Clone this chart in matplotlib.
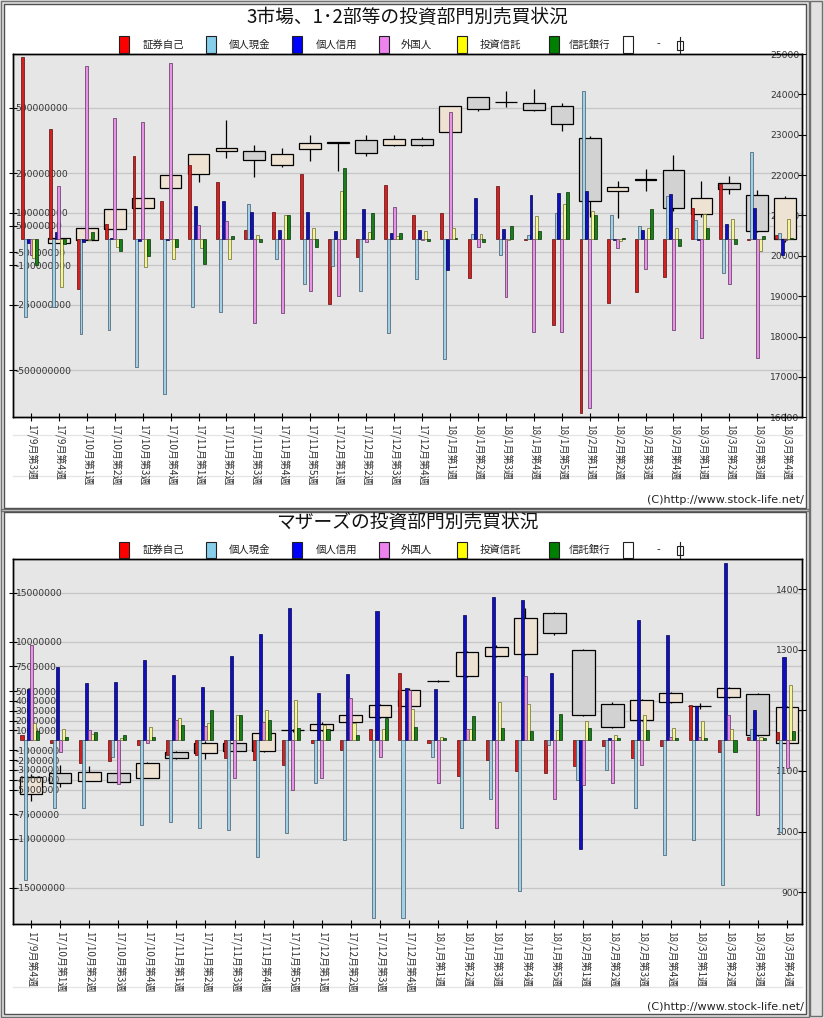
import matplotlib
matplotlib.use('Agg')
import matplotlib.pyplot as plt
import matplotlib.transforms as mtrans
from matplotlib.patches import Rectangle
from matplotlib.lines import Line2D
import numpy as np

plt.rcParams['font.family'] = ['Noto Sans CJK JP', 'DejaVu Sans']
plt.rcParams['axes.unicode_minus'] = False

# ---------------- data: top chart (3市場、1・2部等), values in million yen ----------------
cats_top = ['17/9月第3週', '17/9月第4週', '17/10月第1週', '17/10月第2週', '17/10月第3週',
            '17/10月第4週', '17/11月第1週', '17/11月第2週', '17/11月第3週', '17/11月第4週',
            '17/11月第5週', '17/12月第1週', '17/12月第2週', '17/12月第3週', '17/12月第4週',
            '18/1月第1週', '18/1月第2週', '18/1月第3週', '18/1月第4週', '18/1月第5週',
            '18/2月第1週', '18/2月第2週', '18/2月第3週', '18/2月第4週', '18/3月第1週',
            '18/3月第2週', '18/3月第3週', '18/3月第4週']
top_jiko = [694, 419, -192, 57, 316, 146, 282, 217, 34, 103, 249, -249, -69, 206, 91,
            99, -149, 202, -3, -328, -663, -244, -202, -145, 118, 210, -3, 14]
top_genkin = [-297, -259, -363, -348, -488, -591, -259, -280, 133, -76, -172, -103, -198, -358, -152,
              -457, 19, -61, 15, 99, 564, 91, 50, 164, 72, -130, 332, 23]
top_shinyo = [-15, 27, -13, 2, -9, -3, 126, 146, 103, 34, 103, 30, 114, 23, 34,
              -119, 157, 38, 168, 175, 183, -3, 34, 172, -3, 57, 118, -61]
top_gaikoku = [-61, 202, 659, 461, 446, 671, 53, 69, -320, -282, -198, -217, -11, 122, -5,
               484, -30, -221, -354, -354, -644, -34, -114, -347, -377, -172, -454, -5]
top_toshin = [-74, -183, -5, -30, -107, -76, -34, -76, 15, 91, 43, 184, 27, 11, 30,
              42, 19, -3, 88, 133, 107, -8, 42, 42, 95, 76, -46, 76]
top_shintaku = [-100, -20, 27, -47, -65, -30, -97, 11, -11, 91, -30, 271, 99, 23, -9,
                4, -11, 50, 30, 179, 91, 4, 114, -27, 42, -19, 11, 5]
top_open = [np.nan, 20330, 20383, 20655, 21189, 21683, 22036, 22596, 22604, 22250, 22645, 22790, 22875, 22744, 22900,
            23072, 23936, 23815, 23788, 23714, 22924, 21609, 21882, 22135, 21025, 21814, 21518, 20408]
top_high = [np.nan, 20445, 20700, 21195, 21490, 21995, 22530, 23377, 22752, 22678, 22998, 22822, 22998, 22982, 22950,
            23714, 23936, 24092, 24142, 23780, 22957, 21864, 22143, 22489, 21864, 21970, 21640, 21480]
top_low = [np.nan, 20325, 20383, 20655, 21189, 21584, 21831, 22414, 21954, 22201, 22340, 22094, 22472, 22719, 22719,
           23072, 23591, 23681, 23591, 23081, 20950, 20926, 21617, 21100, 20950, 21543, 20600, 20350]
top_close = [np.nan, 20440, 20679, 21148, 21444, 21995, 22530, 22678, 22382, 22530, 22801, 22811, 22546, 22900, 22752,
             23714, 23640, 23822, 23615, 23270, 21370, 21715, 21892, 21173, 21444, 21666, 20613, 21444]

# ---------------- data: bottom chart (マザーズ), values in million yen ----------------
cats_bot = ['17/9月第4週', '17/10月第1週', '17/10月第2週', '17/10月第3週', '17/10月第4週',
            '17/11月第1週', '17/11月第2週', '17/11月第3週', '17/11月第4週', '17/11月第5週',
            '17/12月第1週', '17/12月第2週', '17/12月第3週', '17/12月第4週',
            '18/1月第1週', '18/1月第2週', '18/1月第3週', '18/1月第4週', '18/1月第5週',
            '18/2月第1週', '18/2月第2週', '18/2月第3週', '18/2月第4週', '18/3月第1週',
            '18/3月第2週', '18/3月第3週', '18/3月第4週']
bot_jiko = [0.5, -0.3, -2.3, -2.1, -0.5, -1.5, -1.5, -1.8, -2.0, -2.5, -0.3, -1.0, 1.1, 6.8,
            -0.3, -3.6, -2.0, -3.1, -3.3, -2.6, -0.6, -1.8, -0.6, 3.6, -1.2, 0.3, 0.8]
bot_genkin = [-14.2, -6.85, -6.9, -1.7, -8.6, -8.3, -8.9, -9.1, -11.9, -9.4, -4.3, -10.1, -18.0, -18.0,
              -1.7, -8.9, -6.0, -15.3, -0.5, -4.0, -3.0, -6.9, -11.7, -10.1, -14.7, 1.2, -9.3]
bot_shinyo = [5.2, 7.4, 5.8, 5.9, 8.2, 6.6, 5.4, 8.6, 10.8, 13.4, 4.8, 6.7, 13.1, 5.3,
              5.2, 12.7, 14.6, 14.3, 6.8, -11.0, 0.2, 12.2, 10.7, 3.5, 18.0, 3.1, 8.5]
bot_gaikoku = [9.7, -1.2, 1.0, -4.4, -0.3, 2.1, 1.5, -3.8, 1.9, -5.0, -3.8, 4.3, -1.7, 5.1,
               -4.3, 1.1, -8.9, 6.5, -6.0, -4.5, -4.3, -2.5, 0.3, 0.3, 2.6, -7.6, -2.85]
bot_toshin = [1.8, 1.15, 0.65, 0.2, 1.4, 2.3, 1.8, 2.6, 3.1, 4.1, 1.6, 1.8, 1.2, 3.2,
              0.3, 1.1, 3.9, 3.7, 1.0, 2.0, 0.5, 2.6, 1.3, 2.0, 1.2, 0.3, 5.6]
bot_shintaku = [0.95, 0.33, 0.85, 0.5, 0.3, 1.6, 3.1, 2.6, 2.1, 1.3, 1.2, 0.5, 2.3, 1.4,
                0.2, 2.5, 1.3, 0.9, 2.7, 1.3, 0.2, 1.0, 0.2, 0.2, -1.2, 0.2, 0.9]
bot_open = [1061.6, 1096, 1084, 1096, 1088, 1131, 1130, 1146, 1133, 1167, 1168, 1180, 1189, 1207,
            1248, 1257, 1290, 1293, 1360, 1299, 1211, 1184, 1214, 1207, 1222, 1227, 1146]
bot_high = [1095, 1110, 1108, 1098, 1115, 1133, 1150, 1148, 1164, 1170, 1180, 1195, 1211, 1236,
            1250, 1298, 1307, 1368, 1362, 1301, 1213, 1219, 1231, 1212, 1239, 1229, 1207]
bot_low = [1051, 1073, 1084, 1080, 1088, 1119, 1120, 1131, 1131, 1164, 1166, 1178, 1187, 1205,
           1246, 1255, 1288, 1291, 1325, 1190, 1171, 1182, 1212, 1203, 1220, 1157, 1144]
bot_close = [1090.6, 1080, 1098, 1082, 1113, 1121, 1146, 1133, 1162, 1167, 1178, 1193, 1209, 1233,
             1248, 1296, 1305, 1352, 1327, 1192, 1173, 1217, 1229, 1207, 1237, 1159, 1205]

legend_labels = ['証券自己', '個人現金', '個人信用', '外国人', '投資信託', '信託銀行']
legend_colors = ['#ff0000', '#87ceeb', '#0000ff', '#ee82ee', '#ffff00', '#008000']
bar_colors = ['#d42020', '#a5cfe4', '#1010c0', '#e892e8', '#f4f49a', '#188018']
bar_edges = ['#5a0a0a', '#3a5a6a', '#00004a', '#5a305a', '#6a6a30', '#063006']

W, H = 824, 1018
fig = plt.figure(figsize=(W / 100, H / 100), dpi=100)
fig.patch.set_facecolor('#e2e2e2')


def fx(x):
    return x / W


def fy(y):
    return 1 - y / H


def frect(x0, y0, x1, y1, **kw):
    r = Rectangle((fx(x0), fy(y1)), fx(x1) - fx(x0), fy(y0) - fy(y1), transform=fig.transFigure, **kw)
    fig.add_artist(r)
    return r


def fline(x0, y0, x1, y1, **kw):
    fig.add_artist(Line2D([fx(x0), fx(x1)], [fy(y0), fy(y1)], transform=fig.transFigure, **kw))


# panels (behind the axes)
for (y0, y1) in [(4, 508), (512, 1014)]:
    frect(1, y0 - 3, 809, y1 + 3, facecolor='none', edgecolor='#707070', lw=1.0, zorder=-3)
    frect(4, y0, 806, y1, facecolor='white', edgecolor='#505050', lw=1.0, zorder=-2)
frect(810, 1, 822, 1016, facecolor='#e2e2e2', edgecolor='#707070', lw=1.0, zorder=-2)
# faint stray grid lines visible in the label area of the original
for yy in [435.5, 476, 987]:
    fline(13, yy, 802, yy, color='#e4e4e4', lw=0.9, zorder=-1)


def draw_legend(yc):
    xs_sq = [119, 206, 292, 379, 457, 549]
    xs_tx = [143, 229, 316, 401, 480, 569]
    for xs, xt, c, lab in zip(xs_sq, xs_tx, legend_colors, legend_labels):
        frect(xs, yc - 8, xs + 10, yc + 8, facecolor=c, edgecolor='#202020', lw=0.8)
        fig.text(fx(xt), fy(yc), lab, ha='left', va='center', fontsize=7.5, color='#222222')
    frect(623, yc - 8, 633, yc + 8, facecolor='white', edgecolor='#202020', lw=0.8)
    fig.text(fx(657), fy(yc), '-', ha='left', va='center', fontsize=7.5, color='#222222')
    fline(680, yc - 8, 680, yc + 8, color='#202020', lw=0.8)
    frect(677, yc - 4, 683, yc + 5, facecolor='white', edgecolor='#202020', lw=0.8)


def draw_chart(rect_px, cats, series, O, Hh, L, C, ylim_l, yticks_l, ylim_r, yticks_r, xlim):
    x0, y0, x1, y1 = rect_px
    ax_p = fig.add_axes([fx(x0), fy(y1), fx(x1) - fx(x0), fy(y0) - fy(y1)])
    ax_p.set_facecolor('#e6e6e6')
    ax_b = ax_p.twinx()
    ax_b.yaxis.set_ticks_position('left')
    ax_b.yaxis.set_label_position('left')
    ax_p.yaxis.set_ticks_position('right')
    ax_p.yaxis.set_label_position('right')

    n = len(cats)
    x = np.arange(n)
    O = np.array(O, float); Hh = np.array(Hh, float); L = np.array(L, float); C = np.array(C, float)

    ax_b.set_ylim(*ylim_l)
    ax_p.set_ylim(*ylim_r)
    ax_p.set_xlim(*xlim)

    tr = mtrans.blended_transform_factory(ax_p.transAxes, ax_b.transData)
    for v in yticks_l:
        ax_p.add_line(Line2D([0, 1], [v, v], transform=tr, color='#c6c6c6', lw=0.9, zorder=0.5))

    ok = ~np.isnan(O)
    ax_p.vlines(x[ok], L[ok], Hh[ok], colors='black', lw=0.9, zorder=2)
    up = C >= O
    cols = ['#eee2d2' if u else '#d2d2d2' for u in up]
    cols = [c for c, k in zip(cols, ok) if k]
    ax_p.bar(x[ok], np.abs(C - O)[ok], bottom=np.minimum(O, C)[ok], width=0.78,
             color=cols, edgecolor='black', lw=0.9, zorder=3)

    bw = 0.105
    for k, (vals, col, ec) in enumerate(zip(series, bar_colors, bar_edges)):
        ax_b.bar(x - 0.31 + bw * k, np.array(vals) * 1e6, width=bw, color=col,
                 edgecolor=ec, lw=0.5, zorder=3)

    ax_b.set_yticks(yticks_l, [str(int(v)) for v in yticks_l])
    ax_b.tick_params(axis='y', direction='inout', length=6, pad=-5, labelsize=6.6,
                     labelcolor='#333333', width=0.8)
    for lab in ax_b.get_yticklabels():
        lab.set_ha('left')
        lab.set_fontfamily('DejaVu Sans')

    ax_p.set_yticks(yticks_r, [str(int(v)) for v in yticks_r])
    ax_p.tick_params(axis='y', direction='inout', length=6, pad=-5, labelsize=6.6,
                     labelcolor='#333333', width=0.8)
    for lab in ax_p.get_yticklabels():
        lab.set_ha('right')
        lab.set_fontfamily('DejaVu Sans')

    ax_p.set_xticks(x, cats)
    ax_p.tick_params(axis='x', direction='inout', length=6, pad=2, labelsize=7.2,
                     labelcolor='#333333', width=0.8)
    for lab in ax_p.get_xticklabels():
        lab.set_rotation(-90)
        lab.set_va('top')
        lab.set_ha('center')
    ax_p.set_ylim(*ylim_r)
    ax_b.set_ylim(*ylim_l)
    ax_p.set_xlim(*xlim)
    for sp in list(ax_p.spines.values()) + list(ax_b.spines.values()):
        sp.set_linewidth(1.0)
        sp.set_color('black')
    return ax_p, ax_b


# ---------- top chart ----------
fig.text(fx(407), fy(17), '3市場、1･2部等の投資部門別売買状況', ha='center', va='center', fontsize=13.5, color='#111111')
draw_legend(44.5)
draw_chart((13, 54, 802, 417.3), cats_top,
           [top_jiko, top_genkin, top_shinyo, top_gaikoku, top_toshin, top_shintaku],
           top_open, top_high, top_low, top_close,
           (-680e6, 705e6),
           [-500000000, -250000000, -100000000, -50000000, 50000000, 100000000, 250000000, 500000000],
           (16000, 25000), list(range(16000, 25001, 1000)), (-0.64, 27.6))
fig.text(fx(804), fy(500), '(C)http://www.stock-life.net/', ha='right', va='center', fontsize=8,
         color='#222222', family='DejaVu Sans')

# ---------- bottom chart ----------
fig.text(fx(407), fy(522), 'マザーズの投資部門別売買状況', ha='center', va='center', fontsize=13.5, color='#111111')
draw_legend(550)
draw_chart((13, 559.3, 802, 924), cats_bot,
           [bot_jiko, bot_genkin, bot_shinyo, bot_gaikoku, bot_toshin, bot_shintaku],
           bot_open, bot_high, bot_low, bot_close,
           (-18.66e6, 18.39e6),
           [-15000000, -10000000, -7500000, -5000000, -4000000, -3000000, -2000000, -1000000,
            1000000, 2000000, 3000000, 4000000, 5000000, 7500000, 10000000, 15000000],
           (847.7, 1449), list(range(900, 1401, 100)), (-0.62, 26.52))
fig.text(fx(804), fy(1007), '(C)http://www.stock-life.net/', ha='right', va='center', fontsize=8,
         color='#222222', family='DejaVu Sans')

fig.savefig('out.png', dpi=100, facecolor=fig.get_facecolor())
